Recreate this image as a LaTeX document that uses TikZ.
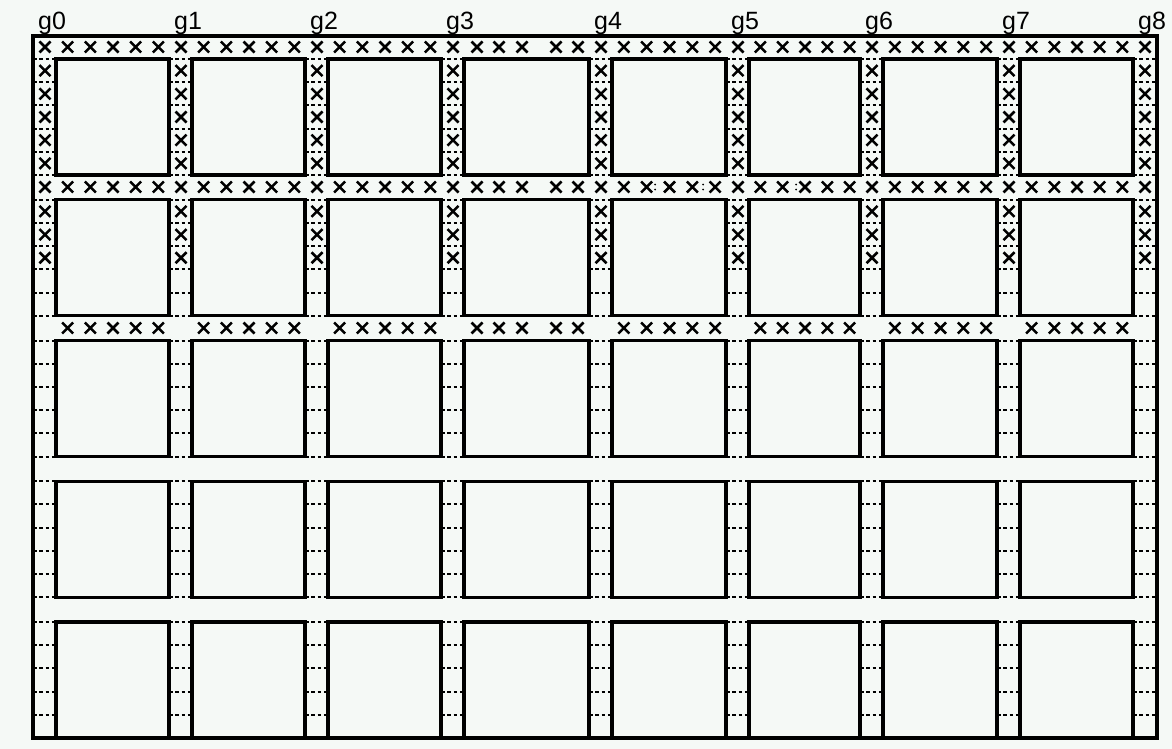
\documentclass[tikz,border=0pt]{standalone}
\usepackage{fontspec}
\setmainfont{Liberation Sans}
\usepackage{tikz}
\usetikzlibrary{shapes.misc}
\definecolor{sheet}{RGB}{245,249,246}

\begin{document}
\begin{tikzpicture}[x=1pt,y=-1pt,
    cell/.style={line width=3.4pt},
    track/.style={line width=2pt,dash pattern=on 3.5pt off 2.8pt},
    xmark/.style={draw,cross out,line width=2.5pt,minimum size=8.5pt,inner sep=0pt},
    glabel/.style={anchor=base west,inner sep=0pt,font={\fontsize{25pt}{25pt}\selectfont}}]
    % Sheet
    \fill[sheet] (0,0) rectangle (1172,749);
    \useasboundingbox (0,0) rectangle (1172,749);

    % Dashed tracks in the vertical channels
    \foreach \r in {0,...,4} {
        \foreach \k in {0,...,5} {
            \foreach \g in {45,181,317,453,601,738,872,1009,1145} {
                \draw[track] ({\g-12},{59+140.75*\r+23.2*\k}) -- ({\g+11},{59+140.75*\r+23.2*\k});
            }
        }
    }

    % Cells
    \foreach \a/\b in {45/181,181/317,317/453,453/601,601/738,738/872,872/1009,1009/1145} {
        \foreach \r in {0,...,4} {
            \draw[cell] ({\a+11},{59+140.75*\r}) rectangle ({\b-12},{175+140.75*\r});
        }
    }

    % Outer frame
    \draw[cell] (33,36) rectangle (1157,738);

    % Grid labels
    \foreach \g [count=\i from 0] in {45,181,317,453,601,738,872,1009,1145} {
        \node[glabel] (g\i) at ({\g-7},30) {g\i};
    }

    % Crosses along the horizontal channels
    \foreach \y/\s in {47/t,187/m,328/b} {
        \foreach \a/\b [count=\i] in {45/181,181/317,317/453,601/738,738/872,872/1009,1009/1145} {
            \foreach \k in {1,...,5}
                \node[xmark] (x\s-\i-\k) at ({\a+\k*(\b-\a)/6},\y) {};
        }
        \foreach \x [count=\k] in {477,499,522,556,578}
            \node[xmark] (x\s-w-\k) at (\x,\y) {};
    }
    \foreach \y/\s in {47/t,187/m} {
        \foreach \g [count=\i from 0] in {45,181,317,453,601,738,872,1009,1145}
            \node[xmark] (x\s-g\i) at (\g,\y) {};
    }

    % Crosses in the vertical channels
    \foreach \g [count=\i from 0] in {45,181,317,453,601,738,872,1009,1145} {
        \foreach \k in {0,...,4}
            \node[xmark] (xa-\i-\k) at (\g,{70.6+23.2*\k}) {};
        \foreach \k in {0,1,2}
            \node[xmark] (xc-\i-\k) at (\g,{211.35+23.2*\k}) {};
    }

    % Stray dots
    \foreach \x in {655,703,796} {
        \fill (\x,184.5) circle[radius=1pt];
        \fill (\x,189.5) circle[radius=1pt];
    }
\end{tikzpicture}
\end{document}
